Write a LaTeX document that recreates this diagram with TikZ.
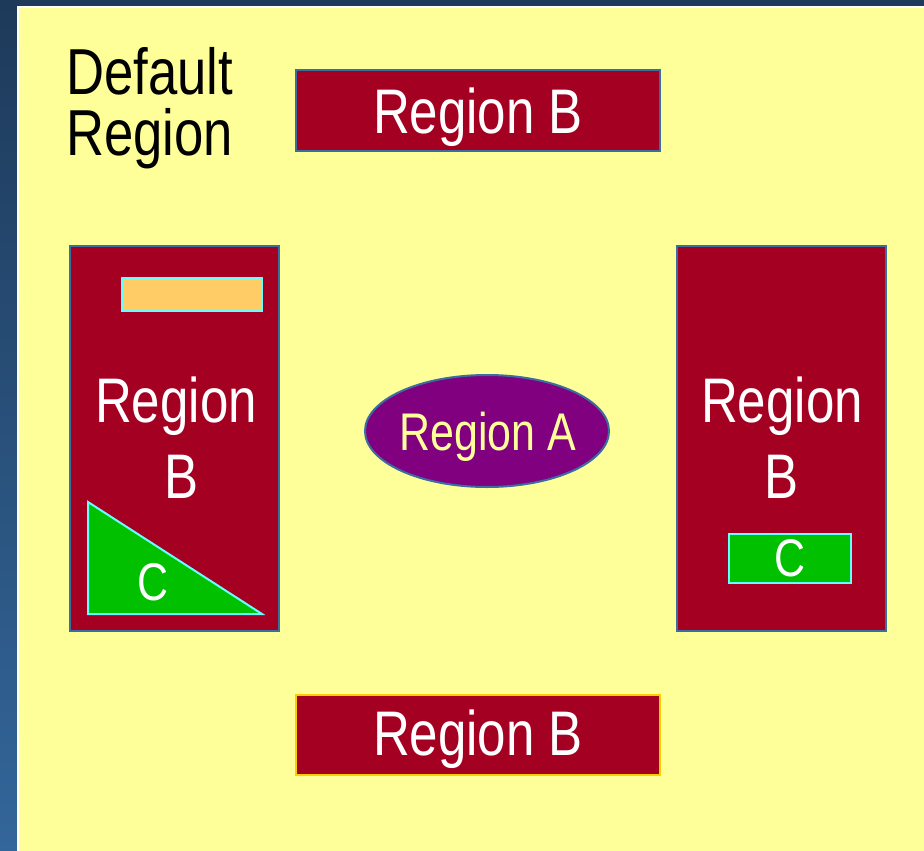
\documentclass[tikz,border=0pt]{standalone}
\usepackage{fontspec}
\setmainfont{Liberation Sans}[FakeStretch=0.81]
\usetikzlibrary{shapes.geometric}
\definecolor{bgtop}{HTML}{1E3A5A}
\definecolor{bgbot}{HTML}{33669A}
\definecolor{pale}{HTML}{FFFF99}
\definecolor{wine}{HTML}{A30022}
\definecolor{edgeblue}{HTML}{3B6EA0}
\definecolor{cyanedge}{HTML}{66FFFF}
\definecolor{orangefill}{HTML}{FFCC66}
\definecolor{greenfill}{HTML}{00C000}
\definecolor{purplefill}{HTML}{800080}
\definecolor{goldedge}{HTML}{FFCC00}
\tikzset{
  rbox/.style={draw=edgeblue, fill=wine, line width=2pt, rectangle, inner sep=0pt},
  cbox/.style={draw=cyanedge, line width=2pt, rectangle, inner sep=0pt},
  wtext/.style={text=white, inner sep=0pt, anchor=base, font=\fontsize{63}{63}\selectfont},
  ctext/.style={text=white, inner sep=0pt, anchor=base, font=\fontsize{53}{53}\selectfont},
  ktext/.style={text=black, inner sep=0pt, anchor=base west, font=\fontsize{65}{65}\selectfont},
}
\begin{document}
\begin{tikzpicture}[x=1pt,y=-1pt]
\useasboundingbox (0,0) rectangle (924,851);
\shade[top color=bgtop, bottom color=bgbot] (0,0) rectangle (924,851);
\draw[white, line width=2pt, fill=pale] (18,7) rectangle (926,853);
% default region label
\node[ktext] (def1) at (66,95) {Default};
\node[ktext] (def2) at (66,155) {Region};
% top region B
\node[rbox, minimum width=364pt, minimum height=81pt] (topB) at (478,110.5) {};
\node[wtext] (topBl) at (478,133) {Region B};
% bottom region B
\node[rbox, draw=goldedge, minimum width=364pt, minimum height=80pt] (botB) at (478,735) {};
\node[wtext] (botBl) at (478,755) {Region B};
% left region B
\node[rbox, minimum width=209pt, minimum height=385pt] (leftB) at (174.5,438.5) {};
\node[cbox, fill=orangefill, minimum width=140pt, minimum height=33pt] (orange) at (192,294.5) {};
\node[wtext] (leftR) at (176,422) {Region};
\node[wtext] (leftBB) at (182,498) {B};
\coordinate (t1) at (88,502);
\coordinate (t2) at (88,614);
\coordinate (t3) at (262,614);
\draw[cyanedge, line width=2pt, fill=greenfill] (t1) -- (t2) -- (t3) -- cycle;
\node[ctext] (leftC) at (153,600) {C};
% right region B
\node[rbox, minimum width=209pt, minimum height=385pt] (rightB) at (781.5,438.5) {};
\node[wtext] (rightR) at (782,422) {Region};
\node[wtext] (rightBB) at (782,498) {B};
\node[cbox, fill=greenfill, minimum width=122pt, minimum height=49pt] (rightCbox) at (790,558.5) {};
\node[ctext] (rightC) at (790,576) {C};
% region A
\node[ellipse, draw=edgeblue, fill=purplefill, line width=2pt, minimum width=244pt, minimum height=112pt, inner sep=0pt] (regA) at (487,431) {};
\node[ctext, text=pale] (regAl) at (488,450) {Region A};
\end{tikzpicture}
\end{document}
